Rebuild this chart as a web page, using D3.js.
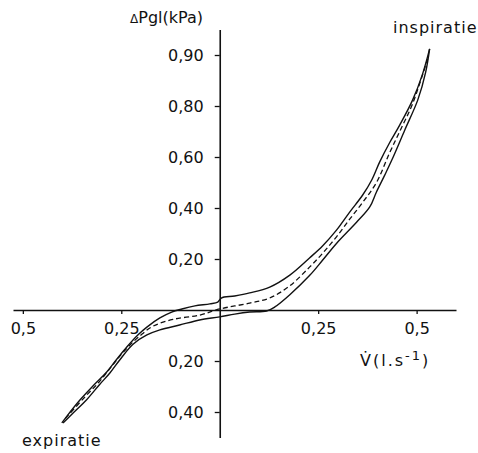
<!DOCTYPE html>
<html>
<head>
<meta charset="utf-8">
<script src="https://cdn.jsdelivr.net/npm/d3@7"></script>
<style>
  html, body { margin: 0; padding: 0; background: #fff; }
  svg text { font-family: "DejaVu Sans", sans-serif; fill: #111; }
</style>
</head>
<body>
<div id="chart"></div>
<script>
// flow (l/s) and pressure (kPa)
const upperEdge = [
  [-0.401, -0.443], [-0.388, -0.416], [-0.355, -0.353], [-0.322, -0.298],
  [-0.287, -0.243], [-0.261, -0.192], [-0.236, -0.145], [-0.208, -0.098],
  [-0.185, -0.067], [-0.152, -0.031], [-0.122, -0.008], [-0.096, 0.004],
  [-0.063, 0.016], [-0.025, 0.024], [-0.005, 0.031], [0.004, 0.047],
  [0.038, 0.055], [0.076, 0.067], [0.127, 0.090], [0.178, 0.137],
  [0.228, 0.204], [0.261, 0.251], [0.297, 0.314], [0.330, 0.384],
  [0.363, 0.451], [0.386, 0.510], [0.406, 0.580], [0.431, 0.655],
  [0.457, 0.725], [0.490, 0.824], [0.515, 0.925], [0.533, 1.024]
];

const lowerEdge = [
  [-0.398, -0.443], [-0.373, -0.405], [-0.338, -0.352], [-0.305, -0.292],
  [-0.279, -0.247], [-0.254, -0.196], [-0.221, -0.135], [-0.185, -0.098],
  [-0.152, -0.078], [-0.102, -0.059], [-0.051, -0.039], [0, -0.027],
  [0.038, -0.016], [0.076, -0.008], [0.119, -0.004], [0.140, 0.012],
  [0.178, 0.060], [0.228, 0.135], [0.261, 0.195], [0.297, 0.262],
  [0.348, 0.345], [0.381, 0.404], [0.398, 0.463], [0.419, 0.529],
  [0.437, 0.588], [0.470, 0.706], [0.503, 0.824], [0.523, 0.933],
  [0.533, 1.024]
];

const meanCurve = [
  [-0.392, -0.425], [-0.343, -0.342], [-0.305, -0.280], [-0.272, -0.216],
  [-0.236, -0.150], [-0.203, -0.102], [-0.170, -0.064], [-0.119, -0.037],
  [-0.051, -0.020], [0, 0.004], [0.076, 0.027], [0.127, 0.047],
  [0.178, 0.095], [0.228, 0.168], [0.261, 0.222], [0.297, 0.288],
  [0.330, 0.356], [0.363, 0.422], [0.398, 0.500], [0.431, 0.615],
  [0.457, 0.700], [0.490, 0.810], [0.528, 0.985]
];

const xTicks = [-0.5, -0.25, 0.25, 0.5];
const xTickLabels = ["0,5", "0,25", "0,25", "0,5"];
const yTicks = [-0.4, -0.2, 0.2, 0.4, 0.6, 0.8, 1.0];
const yTickLabels = ["0,40", "0,20", "0,20", "0,40", "0,60", "0,80", "0,90"];

const width = 478, height = 453;

const svg = d3.select("#chart").append("svg")
  .attr("width", width)
  .attr("height", height);

const x = d3.scaleLinear().domain([-0.525, 0.6]).range([13, 456]);
const y = d3.scaleLinear().domain([-0.5, 1.1]).range([437.5, 29.5]);

// x axis through p = 0, ticks hang below
const xAxis = svg.append("g")
  .attr("transform", `translate(0,${y(0)})`)
  .call(d3.axisBottom(x)
    .tickValues(xTicks)
    .tickFormat((d, i) => xTickLabels[i])
    .tickSize(4)
    .tickSizeOuter(0)
    .tickPadding(9));

// y axis through V = 0
const yAxis = svg.append("g")
  .attr("transform", `translate(${x(0)},0)`)
  .call(d3.axisLeft(y)
    .tickValues(yTicks)
    .tickFormat((d, i) => yTickLabels[i])
    .tickSize(5)
    .tickSizeOuter(0)
    .tickPadding(11));

[xAxis, yAxis].forEach(g => {
  g.select(".domain").attr("stroke", "#111").attr("stroke-width", 1.6);
  g.selectAll(".tick line").attr("stroke", "#111").attr("stroke-width", 1.3);
  g.selectAll(".tick text").attr("font-size", 16).attr("fill", "#111")
    .attr("font-family", "DejaVu Sans, sans-serif");
});

const line = d3.line()
  .x(d => x(d[0]))
  .y(d => y(d[1]))
  .curve(d3.curveCatmullRom.alpha(0.5));

svg.append("path")
  .datum(upperEdge)
  .attr("fill", "none")
  .attr("stroke", "#111")
  .attr("stroke-width", 1.4)
  .attr("d", line);

svg.append("path")
  .datum(lowerEdge)
  .attr("fill", "none")
  .attr("stroke", "#111")
  .attr("stroke-width", 1.4)
  .attr("d", line);

svg.append("path")
  .datum(meanCurve)
  .attr("fill", "none")
  .attr("stroke", "#111")
  .attr("stroke-width", 1.3)
  .attr("stroke-dasharray", "5,3")
  .attr("d", line);

// axis titles
const yTitle = svg.append("text")
  .attr("x", 203)
  .attr("y", 23)
  .attr("text-anchor", "end")
  .attr("font-size", 16);
yTitle.append("tspan").attr("font-size", 12).text("Δ");
yTitle.append("tspan").text("Pgl(kPa)");

const xTitle = svg.append("text")
  .attr("x", 360)
  .attr("y", 366)
  .attr("font-size", 16)
  .attr("letter-spacing", 2);
xTitle.append("tspan").text("V\u0307(l.s");
xTitle.append("tspan").attr("font-size", 13).attr("dy", -6).text("-1");
xTitle.append("tspan").attr("dy", 6).text(")");

svg.append("text")
  .attr("x", 393)
  .attr("y", 33)
  .attr("font-size", 16)
  .attr("letter-spacing", 1)
  .text("inspiratie");

svg.append("text")
  .attr("x", 22)
  .attr("y", 446)
  .attr("font-size", 16)
  .attr("letter-spacing", 1)
  .text("expiratie");
</script>
</body>
</html>
